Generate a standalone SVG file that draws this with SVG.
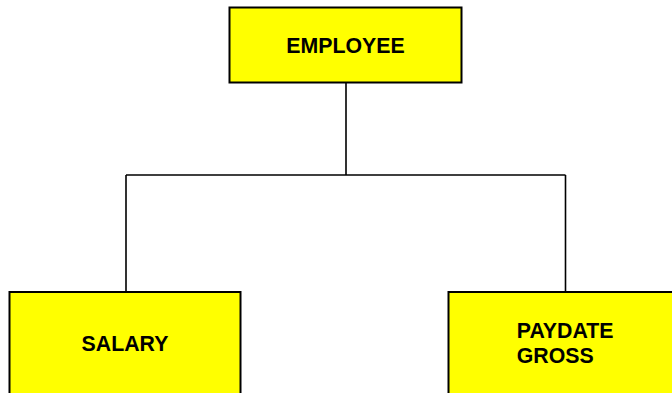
<svg xmlns="http://www.w3.org/2000/svg" width="672" height="393" viewBox="0 0 672 393">
  <style>
    .box { fill: #ffff00; stroke: #000000; stroke-width: 2; }
    .lbl { font-family: "Liberation Sans", Arial, sans-serif; font-weight: bold; font-size: 21.3px; fill: #000000; }
    .wire { fill: none; stroke: #000000; stroke-width: 1.6; }
  </style>
  <rect width="672" height="393" fill="#ffffff"/>
  <g id="connectors">
    <path class="wire" d="M346 83 V175 M126 175 H565.5 M126 175 V292 M565.5 175 V292"/>
  </g>
  <g id="employee">
    <rect class="box" x="229.5" y="7.5" width="232" height="75"/>
    <text class="lbl" x="345.5" y="53" text-anchor="middle">EMPLOYEE</text>
  </g>
  <g id="salary">
    <rect class="box" x="9.5" y="292" width="231" height="110"/>
    <text class="lbl" x="125" y="351.3" text-anchor="middle">SALARY</text>
  </g>
  <g id="paydate-gross">
    <rect class="box" x="448.5" y="292" width="235" height="110"/>
    <text class="lbl" x="516.8" y="338">PAYDATE</text>
    <text class="lbl" x="516.8" y="362.5">GROSS</text>
  </g>
</svg>
